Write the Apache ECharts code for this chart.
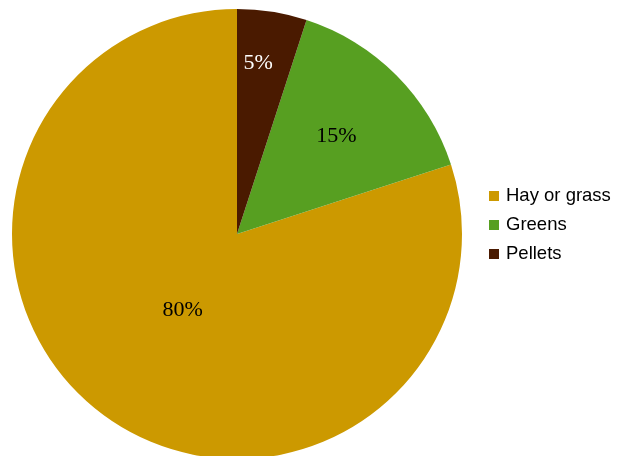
<!DOCTYPE html>
<html>
<head>
<meta charset="utf-8">
<script src="https://cdn.jsdelivr.net/npm/echarts@6/dist/echarts.min.js"></script>
<style>
html, body { margin: 0; padding: 0; background: #fff; }
#chart { width: 623px; height: 456px; }
</style>
</head>
<body>
<div id="chart"></div>
<script>
// data
var categories = ["Hay or grass", "Greens", "Pellets"];
var shares = [80, 15, 5];
var colors = ["#CC9900", "#579F21", "#4A1A00"];
var labelColors = ["#000", "#000", "#fff"];
// where each label sits: fraction of radius, and a small angle nudge (deg)
var labelReach = [0.41, 0.625, 0.77];
var labelTurn = [0, 0, 2];

var cx = 237, cy = 234, R = 225;

var total = shares.reduce(function (a, b) { return a + b; }, 0);
// mid angle of each slice, going counter-clockwise from 12 o'clock
var midAngles = [];
var acc = 0;
for (var i = 0; i < shares.length; i++) {
    var a0 = acc, a1 = acc + shares[i] / total * 360;
    midAngles.push(90 + (a0 + a1) / 2);
    acc = a1;
}

var chart = echarts.init(document.getElementById("chart"));
chart.setOption({
    animation: false,
    legend: {
        orient: "vertical",
        left: 489,
        top: 186.5,
        padding: 0,
        icon: "rect",
        itemWidth: 10,
        itemHeight: 10,
        itemGap: 10,
        textStyle: {
            fontFamily: "Liberation Sans",
            fontSize: 18.5,
            lineHeight: 18.5,
            color: "#000",
            padding: [0, 0, 0, 2]
        },
        data: categories
    },
    series: [{
        type: "pie",
        center: [cx, cy],
        radius: R,
        startAngle: 90,
        clockwise: false,
        silent: true,
        itemStyle: { borderWidth: 0 },
        label: {
            position: "inside",
            formatter: "{c}%",
            fontFamily: "Liberation Serif",
            fontSize: 22
        },
        labelLine: { show: false },
        labelLayout: function (p) {
            var k = p.dataIndex;
            var ang = (midAngles[k] + labelTurn[k]) * Math.PI / 180;
            var d = labelReach[k] * R;
            return {
                x: cx + d * Math.cos(ang),
                y: cy - d * Math.sin(ang) + 1.5,
                align: "center",
                verticalAlign: "middle"
            };
        },
        data: categories.map(function (c, i) {
            return {
                name: c,
                value: shares[i],
                itemStyle: { color: colors[i] },
                label: { color: labelColors[i] }
            };
        })
    }]
});
</script>
</body>
</html>
